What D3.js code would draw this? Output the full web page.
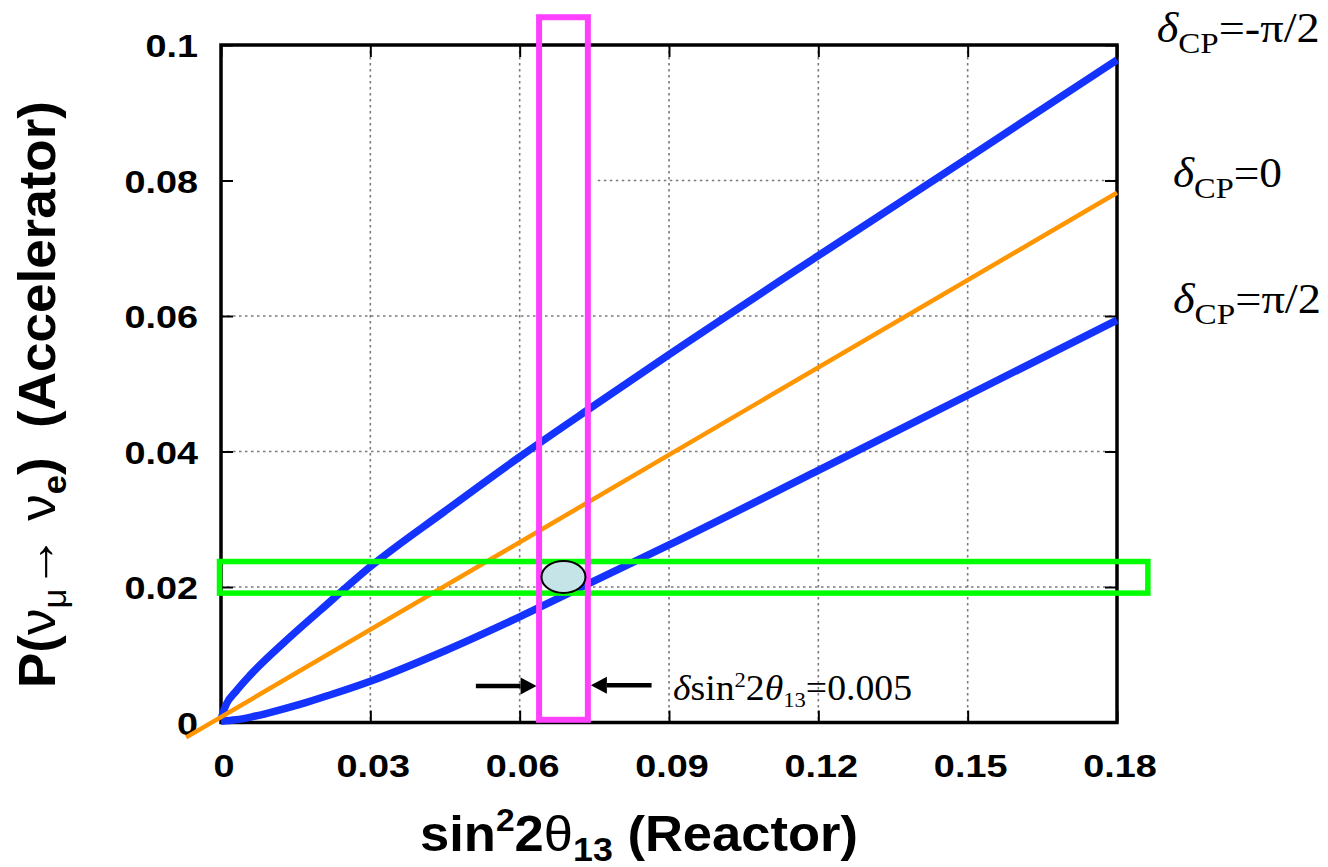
<!DOCTYPE html>
<html>
<head>
<meta charset="utf-8">
<script src="https://cdn.jsdelivr.net/npm/d3@7"></script>
<style>
  body { margin: 0; background: #fff; }
  text { white-space: pre; }
</style>
</head>
<body>
<svg id="chart" width="1328" height="867"></svg>
<script>
// ---- data -------------------------------------------------------------
// sin^2 2θ13 (reactor) vs P(νμ→νe) (accelerator) for three δCP values
const sinSqNeg = [0, 0.001, 0.003, 0.006, 0.0125, 0.02, 0.03, 0.045, 0.06, 0.075, 0.09, 0.12, 0.15, 0.18];
const probNeg  = [0.0005, 0.0026, 0.0046, 0.0071, 0.0117, 0.0166, 0.0230, 0.0312, 0.0392, 0.0468, 0.0543, 0.0689, 0.0833, 0.0978]; // δCP = -π/2

const sinSqPos = [0, 0.003, 0.006, 0.01, 0.016, 0.022, 0.03, 0.045, 0.06, 0.075, 0.09, 0.12, 0.15, 0.18];
const probPos  = [0.0002, 0.0004, 0.0008, 0.0015, 0.0027, 0.0041, 0.0061, 0.0106, 0.0156, 0.0209, 0.0262, 0.0372, 0.0483, 0.0594]; // δCP = π/2

const sinSqZero = [-0.007, 0.18];
const probZero  = [-0.0022, 0.0782]; // δCP = 0

const xTicks = [0, 0.03, 0.06, 0.09, 0.12, 0.15, 0.18];
const xTickLabels = ["0", "0.03", "0.06", "0.09", "0.12", "0.15", "0.18"];
const yTicks = [0, 0.02, 0.04, 0.06, 0.08, 0.1];
const yTickLabels = ["0", "0.02", "0.04", "0.06", "0.08", "0.1"];

const vGridAt = [0.03, 0.06, 0.09, 0.12, 0.15];
const hGridAt = [0.02, 0.04, 0.06, 0.08];
const hGridFrom = [0, 0, 0, 0.0757];

// reactor measurement window (sin^2 2θ13 = 0.0688 ± 0.005)
const reactorX = [0.0639, 0.0737];
const reactorY = [0.0004, 0.1041];
// accelerator measurement window
const accelX = [-0.0003, 0.1862];
const accelY = [0.0191, 0.02376];
// overlap region
const overlapCenter = [0.0688, 0.02148];
const overlapRadius = [0.00442, 0.00236];
// width arrows: start, tip, level
const arrowFrom = [0.0512, 0.0865];
const arrowTo   = [0.0634, 0.0743];
const arrowLevel = [0.0054, 0.0055];

const cpLabels = ["-π/2", "0", "π/2"];

// ---- layout -----------------------------------------------------------
const svg = d3.select("#chart");
const x = d3.scaleLinear().domain([0, 0.18]).range([221, 1117]);
const y = d3.scaleLinear().domain([0, 0.1]).range([722.5, 45]);

const sans = "'Liberation Sans', Arial, Helvetica, sans-serif";
const serif = "'Liberation Serif', 'Times New Roman', serif";
const blue = "#1533ff", orange = "#ff9500";

// grid
const grid = svg.append("g").attr("stroke", "#7a7a7a").attr("stroke-width", 1.6)
  .attr("stroke-dasharray", "2.5,3.5");
grid.selectAll("line.v").data(vGridAt).join("line").attr("class", "v")
  .attr("x1", d => x(d)).attr("x2", d => x(d)).attr("y1", y(0.1)).attr("y2", y(0));
grid.selectAll("line.h").data(hGridAt).join("line").attr("class", "h")
  .attr("x1", (d, i) => x(hGridFrom[i])).attr("x2", x(0.18))
  .attr("y1", d => y(d)).attr("y2", d => y(d));

// axes with mirrored inward ticks
const tickLen = 12;
const axes = svg.append("g");
axes.append("g").attr("transform", `translate(0,${y(0)})`)
  .call(d3.axisBottom(x).tickValues(xTicks).tickSizeInner(-tickLen).tickSizeOuter(0).tickFormat(""));
axes.append("g").attr("transform", `translate(0,${y(0.1)})`)
  .call(d3.axisTop(x).tickValues(xTicks).tickSizeInner(-tickLen).tickSizeOuter(0).tickFormat(""));
axes.append("g").attr("transform", `translate(${x(0)},0)`)
  .call(d3.axisLeft(y).tickValues(yTicks).tickSizeInner(-tickLen).tickSizeOuter(0).tickFormat(""));
axes.append("g").attr("transform", `translate(${x(0.18)},0)`)
  .call(d3.axisRight(y).tickValues(yTicks).tickSizeInner(-tickLen).tickSizeOuter(0).tickFormat(""));
axes.selectAll(".domain").remove();
axes.selectAll(".tick line").attr("stroke", "#000").attr("stroke-width", 2);

// frame
svg.append("rect").attr("x", x(0)).attr("y", y(0.1))
  .attr("width", x(0.18) - x(0)).attr("height", y(0) - y(0.1))
  .attr("fill", "none").attr("stroke", "#000").attr("stroke-width", 3.5);

// tick labels (wide bold face)
const sx = 1.22;
svg.append("g").selectAll("g").data(xTicks).join("g")
  .attr("transform", d => `translate(${x(d) + 3},777) scale(${sx},1)`)
  .append("text").attr("text-anchor", "middle")
  .attr("font-family", sans).attr("font-weight", "bold").attr("font-size", 31)
  .text((d, i) => xTickLabels[i]);
svg.append("g").selectAll("g").data(yTicks).join("g")
  .attr("transform", d => `translate(198,${y(d) + 12}) scale(${sx},1)`)
  .append("text").attr("text-anchor", "end")
  .attr("font-family", sans).attr("font-weight", "bold").attr("font-size", 31)
  .text((d, i) => yTickLabels[i]);

// curves
const line = d3.line().curve(d3.curveMonotoneX);
const ptsNeg = sinSqNeg.map((v, i) => [x(v), y(probNeg[i])]);
const ptsPos = sinSqPos.map((v, i) => [x(v), y(probPos[i])]);
const ptsZero = sinSqZero.map((v, i) => [x(v), y(probZero[i])]);
svg.append("path").attr("d", line(ptsNeg)).attr("fill", "none")
  .attr("stroke", blue).attr("stroke-width", 7.5).attr("stroke-linecap", "butt");
svg.append("path").attr("d", line(ptsPos)).attr("fill", "none")
  .attr("stroke", blue).attr("stroke-width", 7.5).attr("stroke-linecap", "butt");
svg.append("path").attr("d", line(ptsZero)).attr("fill", "none")
  .attr("stroke", orange).attr("stroke-width", 4.5);

// accelerator window
svg.append("rect").attr("x", x(accelX[0])).attr("y", y(accelY[1]))
  .attr("width", x(accelX[1]) - x(accelX[0])).attr("height", y(accelY[0]) - y(accelY[1]))
  .attr("fill", "none").attr("stroke", "#00ff00").attr("stroke-width", 5.5);
// reactor window
svg.append("rect").attr("x", x(reactorX[0])).attr("y", y(reactorY[1]))
  .attr("width", x(reactorX[1]) - x(reactorX[0])).attr("height", y(reactorY[0]) - y(reactorY[1]))
  .attr("fill", "none").attr("stroke", "#ff40ff").attr("stroke-width", 6);
// overlap ellipse
svg.append("ellipse")
  .attr("cx", x(overlapCenter[0])).attr("cy", y(overlapCenter[1]))
  .attr("rx", x(overlapRadius[0]) - x(0)).attr("ry", y(0) - y(overlapRadius[1]))
  .attr("fill", "#c5e4e8").attr("stroke", "#000").attr("stroke-width", 2);

// width arrows
arrowFrom.forEach((f, i) => {
  const x0 = x(f), x1 = x(arrowTo[i]), yy = y(arrowLevel[i]);
  const dir = Math.sign(x1 - x0), headL = 16, headW = 8.5;
  svg.append("line").attr("x1", x0).attr("x2", x1 - dir * headL)
    .attr("y1", yy).attr("y2", yy).attr("stroke", "#000").attr("stroke-width", 4.5);
  svg.append("path")
    .attr("d", `M${x1},${yy} L${x1 - dir * headL},${yy - headW} L${x1 - dir * headL},${yy + headW} Z`)
    .attr("fill", "#000");
});

// width annotation
const ann = svg.append("text").attr("x", 673).attr("y", 700)
  .attr("font-family", serif).attr("font-size", 35)
  .attr("textLength", 239).attr("lengthAdjust", "spacingAndGlyphs");
ann.append("tspan").attr("font-style", "italic").text("δ");
ann.append("tspan").text("sin");
ann.append("tspan").attr("font-size", 21).attr("dy", -13).text("2");
ann.append("tspan").attr("dy", 13).text("2");
ann.append("tspan").attr("font-style", "italic").text("θ");
ann.append("tspan").attr("font-size", 21).attr("dy", 7).text("13");
ann.append("tspan").attr("dy", -7).text("=0.005");

// δCP labels at the right
const cpX = [1156.7, 1173, 1173];
const cpBase = [41.7, 186.7, 313.3];
const cpLen = [163, 109, 148];
cpLabels.forEach((lab, i) => {
  const t = svg.append("text").attr("x", cpX[i]).attr("y", cpBase[i])
    .attr("font-family", serif).attr("font-size", 42)
    .attr("textLength", cpLen[i]).attr("lengthAdjust", "spacingAndGlyphs");
  t.append("tspan").attr("font-style", "italic").text("δ");
  t.append("tspan").attr("font-size", 30).attr("dy", 11).text("CP");
  t.append("tspan").attr("dy", -11).text("=" + lab);
});

// axis titles
const xt = svg.append("text").attr("x", 639).attr("y", 851).attr("text-anchor", "middle")
  .attr("font-family", sans).attr("font-weight", "bold").attr("font-size", 50)
  .attr("textLength", 438).attr("lengthAdjust", "spacingAndGlyphs");
xt.append("tspan").text("sin");
xt.append("tspan").attr("font-size", 32).attr("dy", -20).text("2");
xt.append("tspan").attr("dy", 20).text("2");
xt.append("tspan").attr("font-weight", "normal").text("θ");
xt.append("tspan").attr("font-size", 34).attr("dy", 10).text("13");
xt.append("tspan").attr("dy", -10).text(" (Reactor)");

const yt = svg.append("text").attr("transform", "translate(55,688) rotate(-90)")
  .attr("font-family", sans).attr("font-weight", "bold").attr("font-size", 52)
  .attr("textLength", 587).attr("lengthAdjust", "spacingAndGlyphs");
yt.append("tspan").text("P(");
yt.append("tspan").attr("font-weight", "normal").text("ν");
yt.append("tspan").attr("font-weight", "normal").attr("font-size", 34).attr("dy", 11).text("μ");
yt.append("tspan").attr("font-weight", "normal").attr("dy", -11).text("→ ν");
yt.append("tspan").attr("font-size", 34).attr("dy", 11).text("e");
yt.append("tspan").attr("dy", -11).text(")  (Accelerator)");
</script>
</body>
</html>
